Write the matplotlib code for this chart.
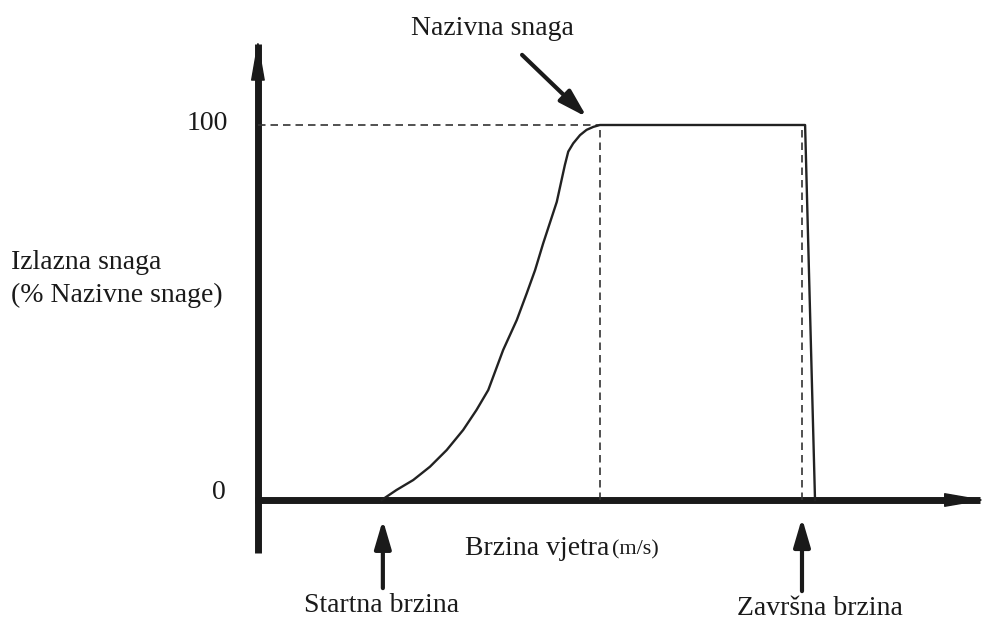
import numpy as np
import matplotlib.pyplot as plt

plt.rcParams['font.family'] = ['Liberation Serif', 'DejaVu Serif']

# krivulja snage (brzina vjetra, % nazivne snage) - ocitano sa slike
brzina = [3.99, 4.47, 5.01, 5.55, 6.09, 6.62, 7.05, 7.43, 7.91, 8.35, 8.67,
          8.94, 9.20, 9.64, 9.90, 10.01, 10.17, 10.39, 10.60, 10.82, 11.03,
          17.65, 17.97]
snaga = [0, 2.67, 5.33, 8.88, 13.33, 18.67, 24.0, 29.33, 40.0, 48.0, 55.1,
         61.3, 68.4, 79.5, 89.3, 92.9, 95.1, 97.3, 98.7, 99.5, 100,
         100, 0]

v_start = 4.03      # startna brzina
v_nazivna = 11.03   # nazivna brzina
v_kraj = 17.55      # zavrsna brzina
p_nazivna = 100

boja = '#1a1a1a'

fig = plt.figure(figsize=(9.88, 6.22), dpi=100)
ax = fig.add_axes([0, 0, 1, 1])
ax.set_xlim(-8.32, 23.55)
ax.set_ylim(-32.53, 133.33)
ax.set_axis_off()

# osi: debela linija + glava strelice
ax.plot([0, 0], [-14.1, 121.5], color=boja, lw=5, solid_capstyle='butt')
ax.plot([-0.08, 23.3], [0, 0], color=boja, lw=5, solid_capstyle='butt')
glava = dict(arrowstyle='-|>,head_length=2.6,head_width=0.45',
             lw=1.0, color=boja, shrinkA=0, shrinkB=0)
ax.annotate('', xy=(0, 122.7), xytext=(0, 110), arrowprops=glava)
ax.annotate('', xy=(23.45, 0), xytext=(21.5, 0), arrowprops=glava)

# isprekidane linije
crt = dict(color='#333333', lw=1.2, dashes=(4.5, 3))
ax.plot([0, v_nazivna], [p_nazivna, p_nazivna], **crt)
ax.plot([v_nazivna, v_nazivna], [0, p_nazivna], **crt)
ax.plot([v_kraj, v_kraj], [0, p_nazivna], **crt)

# krivulja
ax.plot(brzina, snaga, color='#222222', lw=1.7, solid_joinstyle='round')

# oznake
fs = 20
ax.text(-0.95, 100.5, '100', ha='right', va='center', fontsize=fs, color=boja)
ax.text(-1.05, 2.1, '0', ha='right', va='center', fontsize=fs, color=boja)
ax.text(-7.95, 59.0, 'Izlazna snaga\n(% Nazivne snage)', ha='left', va='center',
        fontsize=fs, color=boja, linespacing=1.4)
ax.text(11.35, -14.6, 'Brzina vjetra', ha='right', va='baseline', fontsize=fs,
        color=boja)
ax.text(11.42, -14.6, '(m/s)', ha='left', va='baseline', fontsize=16, color=boja)

strelica = dict(arrowstyle='-|>,head_length=1.7,head_width=0.5',
                lw=3, color=boja, shrinkA=0, shrinkB=0)
ax.text(7.55, 125.8, 'Nazivna snaga', ha='center', va='center', fontsize=fs,
        color=boja)
ax.annotate('', xy=(10.61, 102.1), xytext=(8.52, 118.7), arrowprops=strelica)

ax.text(v_start - 0.05, -28.0, 'Startna brzina', ha='center', va='center',
        fontsize=fs, color=boja)
ax.annotate('', xy=(v_start, -5.3), xytext=(v_start, -23.5), arrowprops=strelica)

ax.text(18.13, -29.0, 'Završna brzina', ha='center', va='center', fontsize=fs,
        color=boja)
ax.annotate('', xy=(v_kraj, -4.8), xytext=(v_kraj, -24.3), arrowprops=strelica)

fig.savefig('out.png', dpi=100, facecolor='white')
